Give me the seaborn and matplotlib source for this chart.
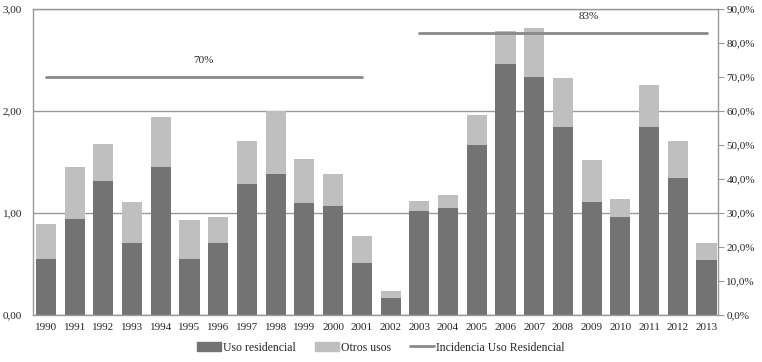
import numpy as np
import pandas as pd
import matplotlib
matplotlib.use('Agg')
import matplotlib.pyplot as plt
import seaborn as sns
from matplotlib.patches import Patch
from matplotlib.lines import Line2D

# Datos
years = [str(y) for y in range(1990, 2014)]
residencial = [0.55, 0.94, 1.31, 0.71, 1.45, 0.55, 0.71, 1.28, 1.38, 1.10, 1.07, 0.51,
               0.17, 1.02, 1.05, 1.67, 2.46, 2.33, 1.84, 1.11, 0.96, 1.84, 1.34, 0.54]
total = [0.89, 1.45, 1.68, 1.11, 1.94, 0.93, 0.96, 1.71, 2.00, 1.53, 1.38, 0.77,
         0.235, 1.12, 1.18, 1.96, 2.78, 2.81, 2.32, 1.52, 1.14, 2.26, 1.71, 0.71]
periodos = [('1990', '2001', 0.70, '70%'), ('2003', '2013', 0.83, '83%')]

c_res = '#737373'
c_otros = '#bfbfbf'
c_linea = '#8a8a8a'

sns.set_style('white')
plt.rcParams['font.family'] = ['Liberation Serif', 'DejaVu Serif']

df = pd.DataFrame({'year': years, 'res': residencial, 'total': total})

fig = plt.figure(figsize=(7.62, 3.62), dpi=100)
ax = fig.add_axes([0.0433, 0.130, 0.899, 0.845])

sns.barplot(data=df, x='year', y='total', color=c_otros, width=0.7, saturation=1,
            linewidth=0, ax=ax)
sns.barplot(data=df, x='year', y='res', color=c_res, width=0.7, saturation=1,
            linewidth=0, ax=ax)

ax.set_ylim(0, 3)
ax.set_xlim(-0.45, 23.4)
ax.set_yticks([0, 1, 2, 3])
ax.set_yticklabels(['0,00', '1,00', '2,00', '3,00'], fontsize=8)
ax.tick_params(axis='x', labelsize=8, length=0, pad=6)
ax.tick_params(axis='y', length=0, pad=8)
ax.set_xlabel('')
ax.set_ylabel('')
ax.yaxis.grid(True, color='#999999', linewidth=1)
ax.set_axisbelow(True)
for s in ax.spines.values():
    s.set_color('#999999')
    s.set_linewidth(1)

ax2 = ax.twinx()
ax2.set_ylim(0, 0.9)
ax2.set_yticks(np.arange(0, 0.91, 0.1))
ax2.set_yticklabels([f'{v:.1f}%'.replace('.', ',') for v in np.arange(0, 90.1, 10)], fontsize=8)
ax2.tick_params(axis='y', length=4, color='#999999', pad=2)
for s in ax2.spines.values():
    s.set_visible(False)

for ini, fin, val, lab in periodos:
    i0, i1 = years.index(ini), years.index(fin)
    seg = pd.DataFrame({'x': [i0, i1], 'y': [val, val]})
    sns.lineplot(data=seg, x='x', y='y', color=c_linea, linewidth=2, ax=ax2)
    ax2.text((i0 + i1) / 2 + (0 if lab == '70%' else 0.9), val + 0.035, lab,
             ha='center', va='bottom', fontsize=8)
ax2.set_xlim(-0.45, 23.4)
ax2.set_xlabel('')
ax2.set_ylabel('')

handles = [Patch(color=c_res), Patch(color=c_otros), Line2D([], [], color=c_linea, linewidth=2)]
fig.legend(handles, ['Uso residencial', 'Otros usos', 'Incidencia Uso Residencial'],
           loc='center', bbox_to_anchor=(0.5, 0.04), ncol=3, frameon=False, fontsize=8.5,
           handlelength=2, handleheight=0.7, handletextpad=0.2, columnspacing=1.6)

fig.savefig('out.png', dpi=100)
